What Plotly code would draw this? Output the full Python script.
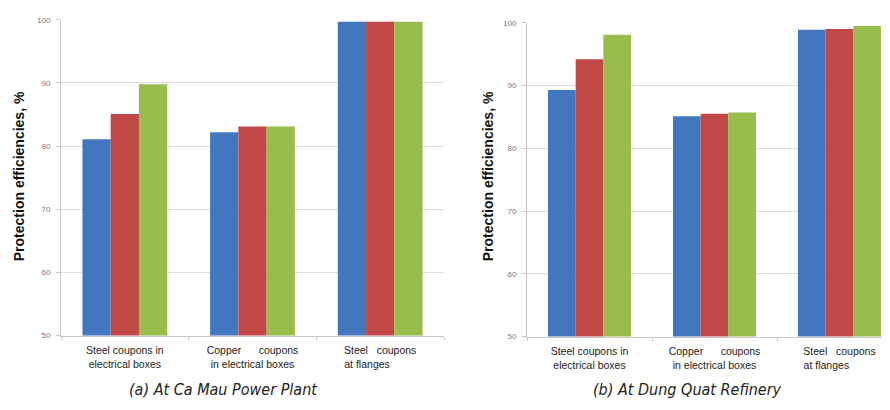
import plotly.graph_objects as go

categories = ["Steel coupons in<br>electrical boxes",
              "Copper\u00a0\u00a0\u00a0\u00a0\u00a0 coupons<br>in electrical boxes",
              "Steel\u00a0\u00a0 coupons<br>at flanges" + "\u00a0" * 9]
cat_keys = ["steel_box", "copper_box", "steel_flange"]

# (a) Ca Mau Power Plant
a_blue = [81.1, 82.2, 99.7]
a_red = [85.1, 83.1, 99.7]
a_green = [89.8, 83.1, 99.7]

# (b) Dung Quat Refinery
b_blue = [89.3, 85.1, 98.9]
b_red = [94.2, 85.5, 99.0]
b_green = [98.1, 85.7, 99.5]

y_ticks = [50, 60, 70, 80, 90, 100]
colors = ["#4277BF", "#C24848", "#98BD4C"]

# page body has an 8px margin; size the figure to fill the rest of the window
OFF = 8
W, H = 890 - OFF, 410 - OFF
fig = go.Figure()

for vals, c in zip([a_blue, a_red, a_green], colors):
    fig.add_trace(go.Bar(x=cat_keys, y=vals, marker=dict(color=c, line=dict(width=0)),
                         xaxis="x", yaxis="y", showlegend=False))
for vals, c in zip([b_blue, b_red, b_green], colors):
    fig.add_trace(go.Bar(x=cat_keys, y=vals, marker=dict(color=c, line=dict(width=0)),
                         xaxis="x2", yaxis="y2", showlegend=False))

def px_x(v):
    return (v - OFF) / W

def px_y(v):
    return (H - (v - OFF)) / H

xcommon = dict(type="category", tickmode="array", tickvals=cat_keys, ticktext=categories,
               showline=True, linecolor="#C8C8C8", linewidth=1, showgrid=False,
               ticks="outside", tickson="boundaries", ticklen=3, tickcolor="#C8C8C8",
               tickfont=dict(family="Arial", size=10.5, color="#222"),
               ticklabelstandoff=5,
               zeroline=False, fixedrange=True)
ycommon = dict(range=[50, 100], tickvals=y_ticks, showline=True, linecolor="#C8C8C8",
               linewidth=1, showgrid=True, gridcolor="#DCDCDC", gridwidth=1,
               ticks="outside", ticklen=4, tickcolor="#C8C8C8",
               tickfont=dict(family="Arial", size=8, color="#777"),
               ticklabelstandoff=4,
               zeroline=False)

fig.update_layout(
    width=W, height=H,
    margin=dict(l=0, r=0, t=0, b=0),
    paper_bgcolor="white", plot_bgcolor="white",
    barmode="group", bargap=0.336, bargroupgap=0,
    xaxis=dict(domain=[px_x(61), px_x(444)], anchor="y", range=[-0.5, 2.5], **xcommon),
    yaxis=dict(domain=[px_y(339), px_y(16)], anchor="x", **ycommon),
    xaxis2=dict(domain=[px_x(527), px_x(885)], anchor="y2", range=[-0.5, 2.364], **xcommon),
    yaxis2=dict(domain=[px_y(340), px_y(19)], anchor="x2", **ycommon),
)

title_font = dict(family="Arial", size=14, color="#111")
for xc in [19, 488]:
    fig.add_annotation(text="<b>Protection efficiencies, %</b>", textangle=-90,
                       xref="paper", yref="paper", x=px_x(xc), y=px_y(176),
                       showarrow=False, font=title_font, xanchor="center", yanchor="middle")

cap_font = dict(family="DejaVu Sans Condensed", size=16, color="#222")
for txt, xc in [("<i>(a) At Ca Mau Power Plant</i>", 223), ("<i>(b) At Dung Quat Refinery</i>", 687)]:
    fig.add_annotation(text=txt, xref="paper", yref="paper", x=px_x(xc), y=px_y(394),
                       showarrow=False, font=cap_font, xanchor="center", yanchor="middle")

fig.write_html("out.html")
